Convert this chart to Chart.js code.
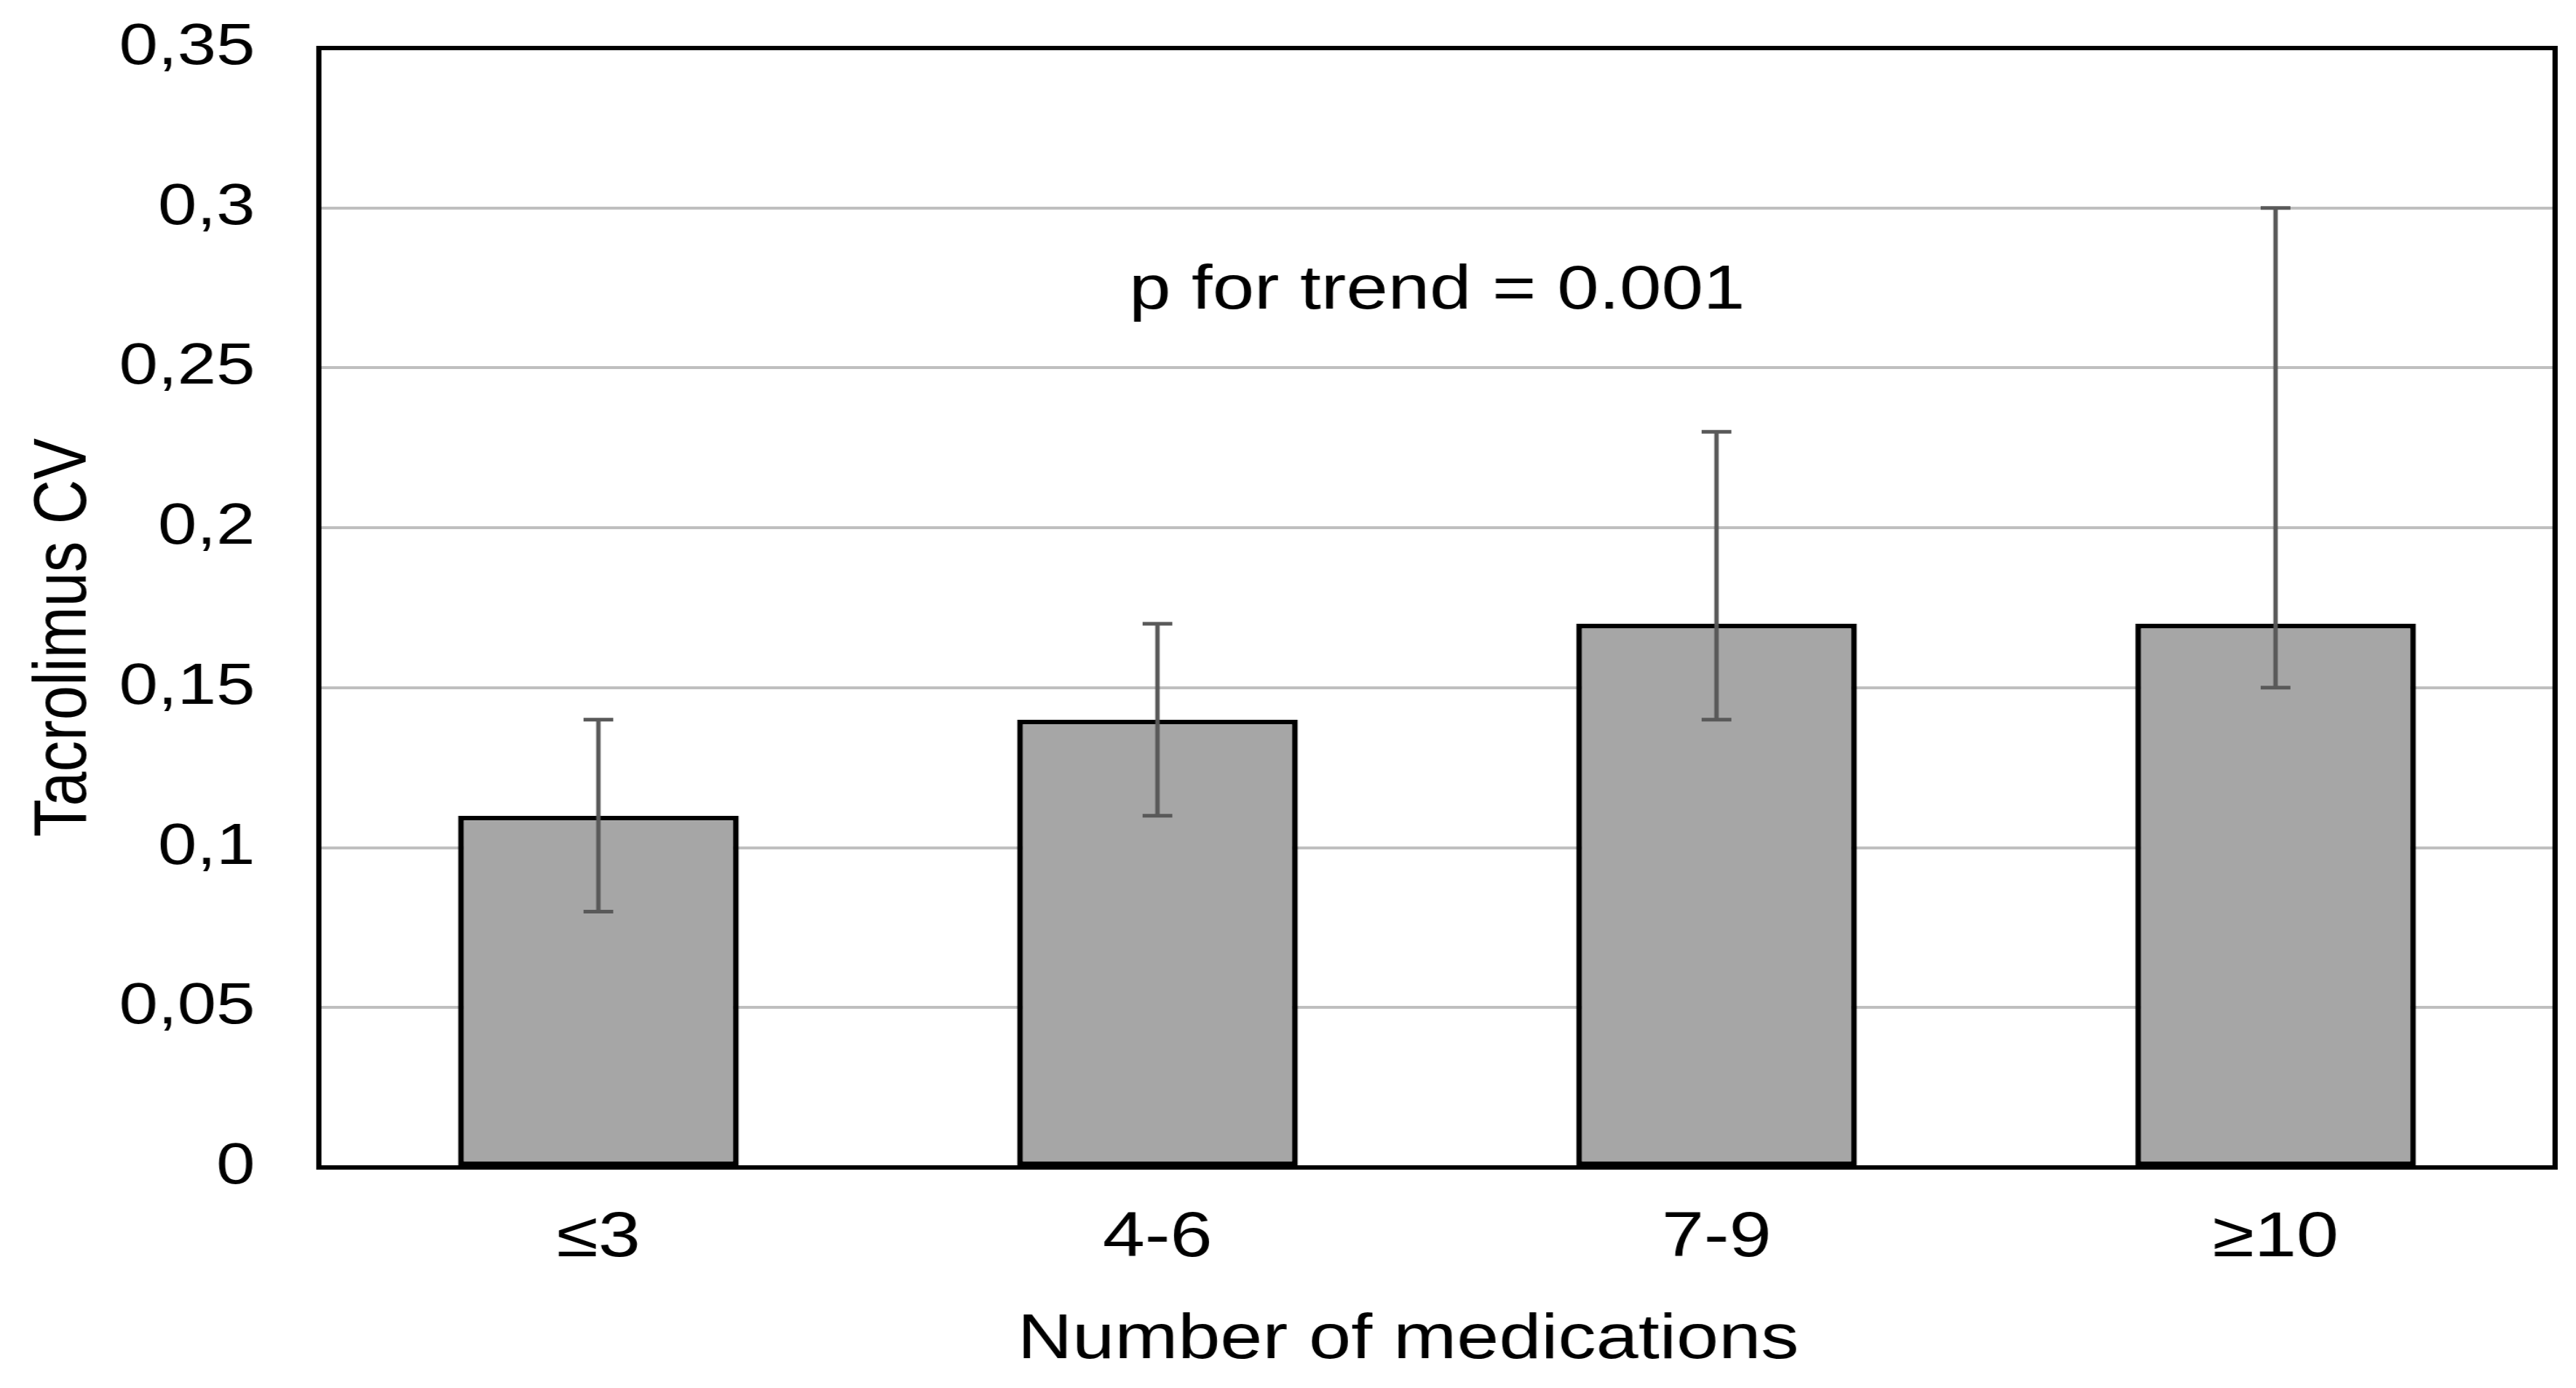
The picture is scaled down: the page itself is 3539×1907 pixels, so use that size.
<!DOCTYPE html>
<html>
<head>
<meta charset="utf-8">
<title>Tacrolimus CV by number of medications</title>
<script src="https://cdn.jsdelivr.net/npm/chart.js@4.4.1/dist/chart.umd.min.js"></script>
<style>
  html, body { margin: 0; padding: 0; background: #fff; overflow: hidden; }
  /* the source figure is stretched sideways, so the canvas is too */
  #wrap { width: 2949px; height: 1907px; transform: scaleX(1.2001); transform-origin: 0 0; }
  canvas { display: block; }
</style>
</head>
<body>
<div id="wrap"><canvas id="cvChart" width="2949" height="1907"></canvas></div>
<script>
const categories = ["≤3", "4-6", "7-9", "≥10"];
const cvValues = [0.11, 0.14, 0.17, 0.17];
const errLow = [0.08, 0.11, 0.14, 0.15];
const errHigh = [0.14, 0.17, 0.23, 0.30];
const yTicks = [0, 0.05, 0.1, 0.15, 0.2, 0.25, 0.3, 0.35];
const xTitle = "Number of medications";
const yTitle = "Tacrolimus CV";
const trendText = "p for trend = 0.001";

const FONT = "'Liberation Sans', Arial, sans-serif";

// error bars with caps, drawn over the bars
const errorBars = {
  id: "errorBars",
  afterDatasetsDraw(chart) {
    const ctx = chart.ctx;
    const y = chart.scales.y;
    const meta = chart.getDatasetMeta(0);
    ctx.save();
    ctx.strokeStyle = "#595959";
    ctx.lineWidth = 5;
    meta.data.forEach((bar, i) => {
      const x = bar.x;
      const top = y.getPixelForValue(errHigh[i]);
      const bot = y.getPixelForValue(errLow[i]);
      ctx.beginPath();
      ctx.moveTo(x, top);
      ctx.lineTo(x, bot);
      ctx.moveTo(x - 17, top);
      ctx.lineTo(x + 17, top);
      ctx.moveTo(x - 17, bot);
      ctx.lineTo(x + 17, bot);
      ctx.stroke();
    });
    ctx.restore();
  }
};

// frame round the plot area, axis titles and the trend label
const frameAndText = {
  id: "frameAndText",
  afterDraw(chart) {
    const ctx = chart.ctx;
    const a = chart.chartArea;
    const x = chart.scales.x;
    const y = chart.scales.y;
    ctx.save();
    ctx.strokeStyle = "#000";
    ctx.lineWidth = 6;
    ctx.strokeRect(a.left, a.top, a.right - a.left, a.bottom - a.top);

    ctx.fillStyle = "#000";
    ctx.textAlign = "center";
    ctx.textBaseline = "middle";

    ctx.font = "86px " + FONT;
    const px = (x.getPixelForValue(1) + x.getPixelForValue(2)) / 2;
    ctx.fillText(trendText, px, y.getPixelForValue(0.274));

    ctx.font = "87px " + FONT;
    ctx.fillText(xTitle, 1612, 1842);

    ctx.font = "85px " + FONT;
    ctx.translate(75, 876);
    ctx.rotate(-Math.PI / 2);
    ctx.fillText(yTitle, 0, 0);
    ctx.restore();
  }
};

new Chart(document.getElementById("cvChart"), {
  type: "bar",
  data: {
    labels: categories,
    datasets: [
      {
        data: cvValues,
        backgroundColor: "#a6a6a6",
        borderColor: "#000",
        borderWidth: 6.5,
        borderSkipped: false,
        categoryPercentage: 1,
        barPercentage: 0.502
      }
    ]
  },
  options: {
    responsive: false,
    animation: false,
    devicePixelRatio: 1,
    layout: { padding: { top: 66, right: 24, left: 0, bottom: 0 } },
    plugins: {
      legend: { display: false },
      tooltip: { enabled: false }
    },
    scales: {
      x: {
        grid: { display: false, drawTicks: false },
        border: { display: false },
        ticks: {
          color: "#000",
          font: { family: FONT, size: 87 },
          padding: 46
        },
        afterFit(scale) {
          scale.height = 303;
          scale.paddingLeft = 0;
          scale.paddingRight = 0;
        }
      },
      y: {
        min: 0,
        max: 0.35,
        afterBuildTicks(scale) {
          scale.ticks = yTicks.map((v) => ({ value: v }));
        },
        grid: { color: "#bfbfbf", lineWidth: 4, drawTicks: false },
        border: { display: false },
        ticks: {
          color: "#000",
          font: { family: FONT, size: 80 },
          padding: 73,
          callback: (v) => String(v).replace(".", ",")
        },
        afterFit(scale) {
          scale.width = 365;
          scale.paddingTop = 0;
          scale.paddingBottom = 0;
        }
      }
    }
  },
  plugins: [errorBars, frameAndText]
});
</script>
</body>
</html>
